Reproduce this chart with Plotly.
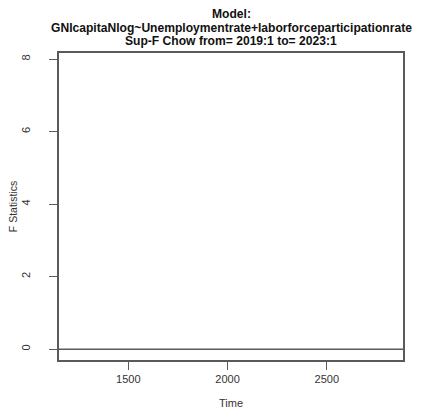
import plotly.graph_objects as go

# Data
title_lines = ["Model:",
               "GNIcapitaNlog~Unemploymentrate+laborforceparticipationrate",
               "Sup-F Chow from= 2019:1 to= 2023:1"]
x_ticks = [1500, 2000, 2500]
y_ticks = [0, 2, 4, 6, 8]
x_range = [1151, 2884]
y_range = [-0.30, 8.17]
ref_line_y = 0
x_label = "Time"
y_label = "F Statistics"

FONT = "Liberation Sans, Arial, sans-serif"
LINE = "#5a5a5a"

W, H = 423, 409
ML, MR, MT, MB = 59, 20, 53, 49
PLOT_H = H - MT - MB

fig = go.Figure()
fig.add_trace(go.Scatter(x=x_range, y=[ref_line_y, ref_line_y], mode="lines",
                         line=dict(color=LINE, width=1.5), hoverinfo="skip",
                         showlegend=False))

fig.update_layout(
    width=W, height=H,
    margin=dict(l=ML, r=MR, t=MT, b=MB, autoexpand=False),
    paper_bgcolor="white", plot_bgcolor="white",
    font=dict(family=FONT, size=11, color="#333333"),
    showlegend=False,
)

fig.update_xaxes(range=x_range, tickmode="array", tickvals=x_ticks,
                 ticktext=[str(v) for v in x_ticks], automargin=False,
                 ticks="outside", ticklen=8, tickcolor=LINE, tickwidth=1.2,
                 showline=True, linecolor=LINE, linewidth=1.5, mirror=True,
                 showgrid=False, zeroline=False,
                 tickfont=dict(size=11, color="#333333"),
                 title=dict(text=x_label, font=dict(size=11, color="#333333"), standoff=19))
fig.update_yaxes(range=y_range, tickmode="array", tickvals=y_ticks,
                 ticktext=[str(v) for v in y_ticks], tickangle=-90, automargin=False,
                 ticks="outside", ticklen=8, tickcolor=LINE, tickwidth=1.2,
                 ticklabelstandoff=15,
                 showline=True, linecolor=LINE, linewidth=1.5, mirror=True,
                 showgrid=False, zeroline=False,
                 tickfont=dict(size=11, color="#333333"),
                 title=dict(text=y_label, font=dict(size=10.5, color="#333333"), standoff=0))

title_y = [14.5, 28, 41.5]
for txt, yy in zip(title_lines, title_y):
    fig.add_annotation(text="<b>%s</b>" % txt, xref="paper", x=0.5,
                       yref="paper", y=1 + (MT - yy) / PLOT_H,
                       yanchor="middle", xanchor="center", showarrow=False,
                       font=dict(family=FONT, size=12.1, color="#111111"))

fig.write_html("out.html", config={"displayModeBar": False},
               post_script="document.body.style.margin='0';document.body.style.overflow='hidden';")
